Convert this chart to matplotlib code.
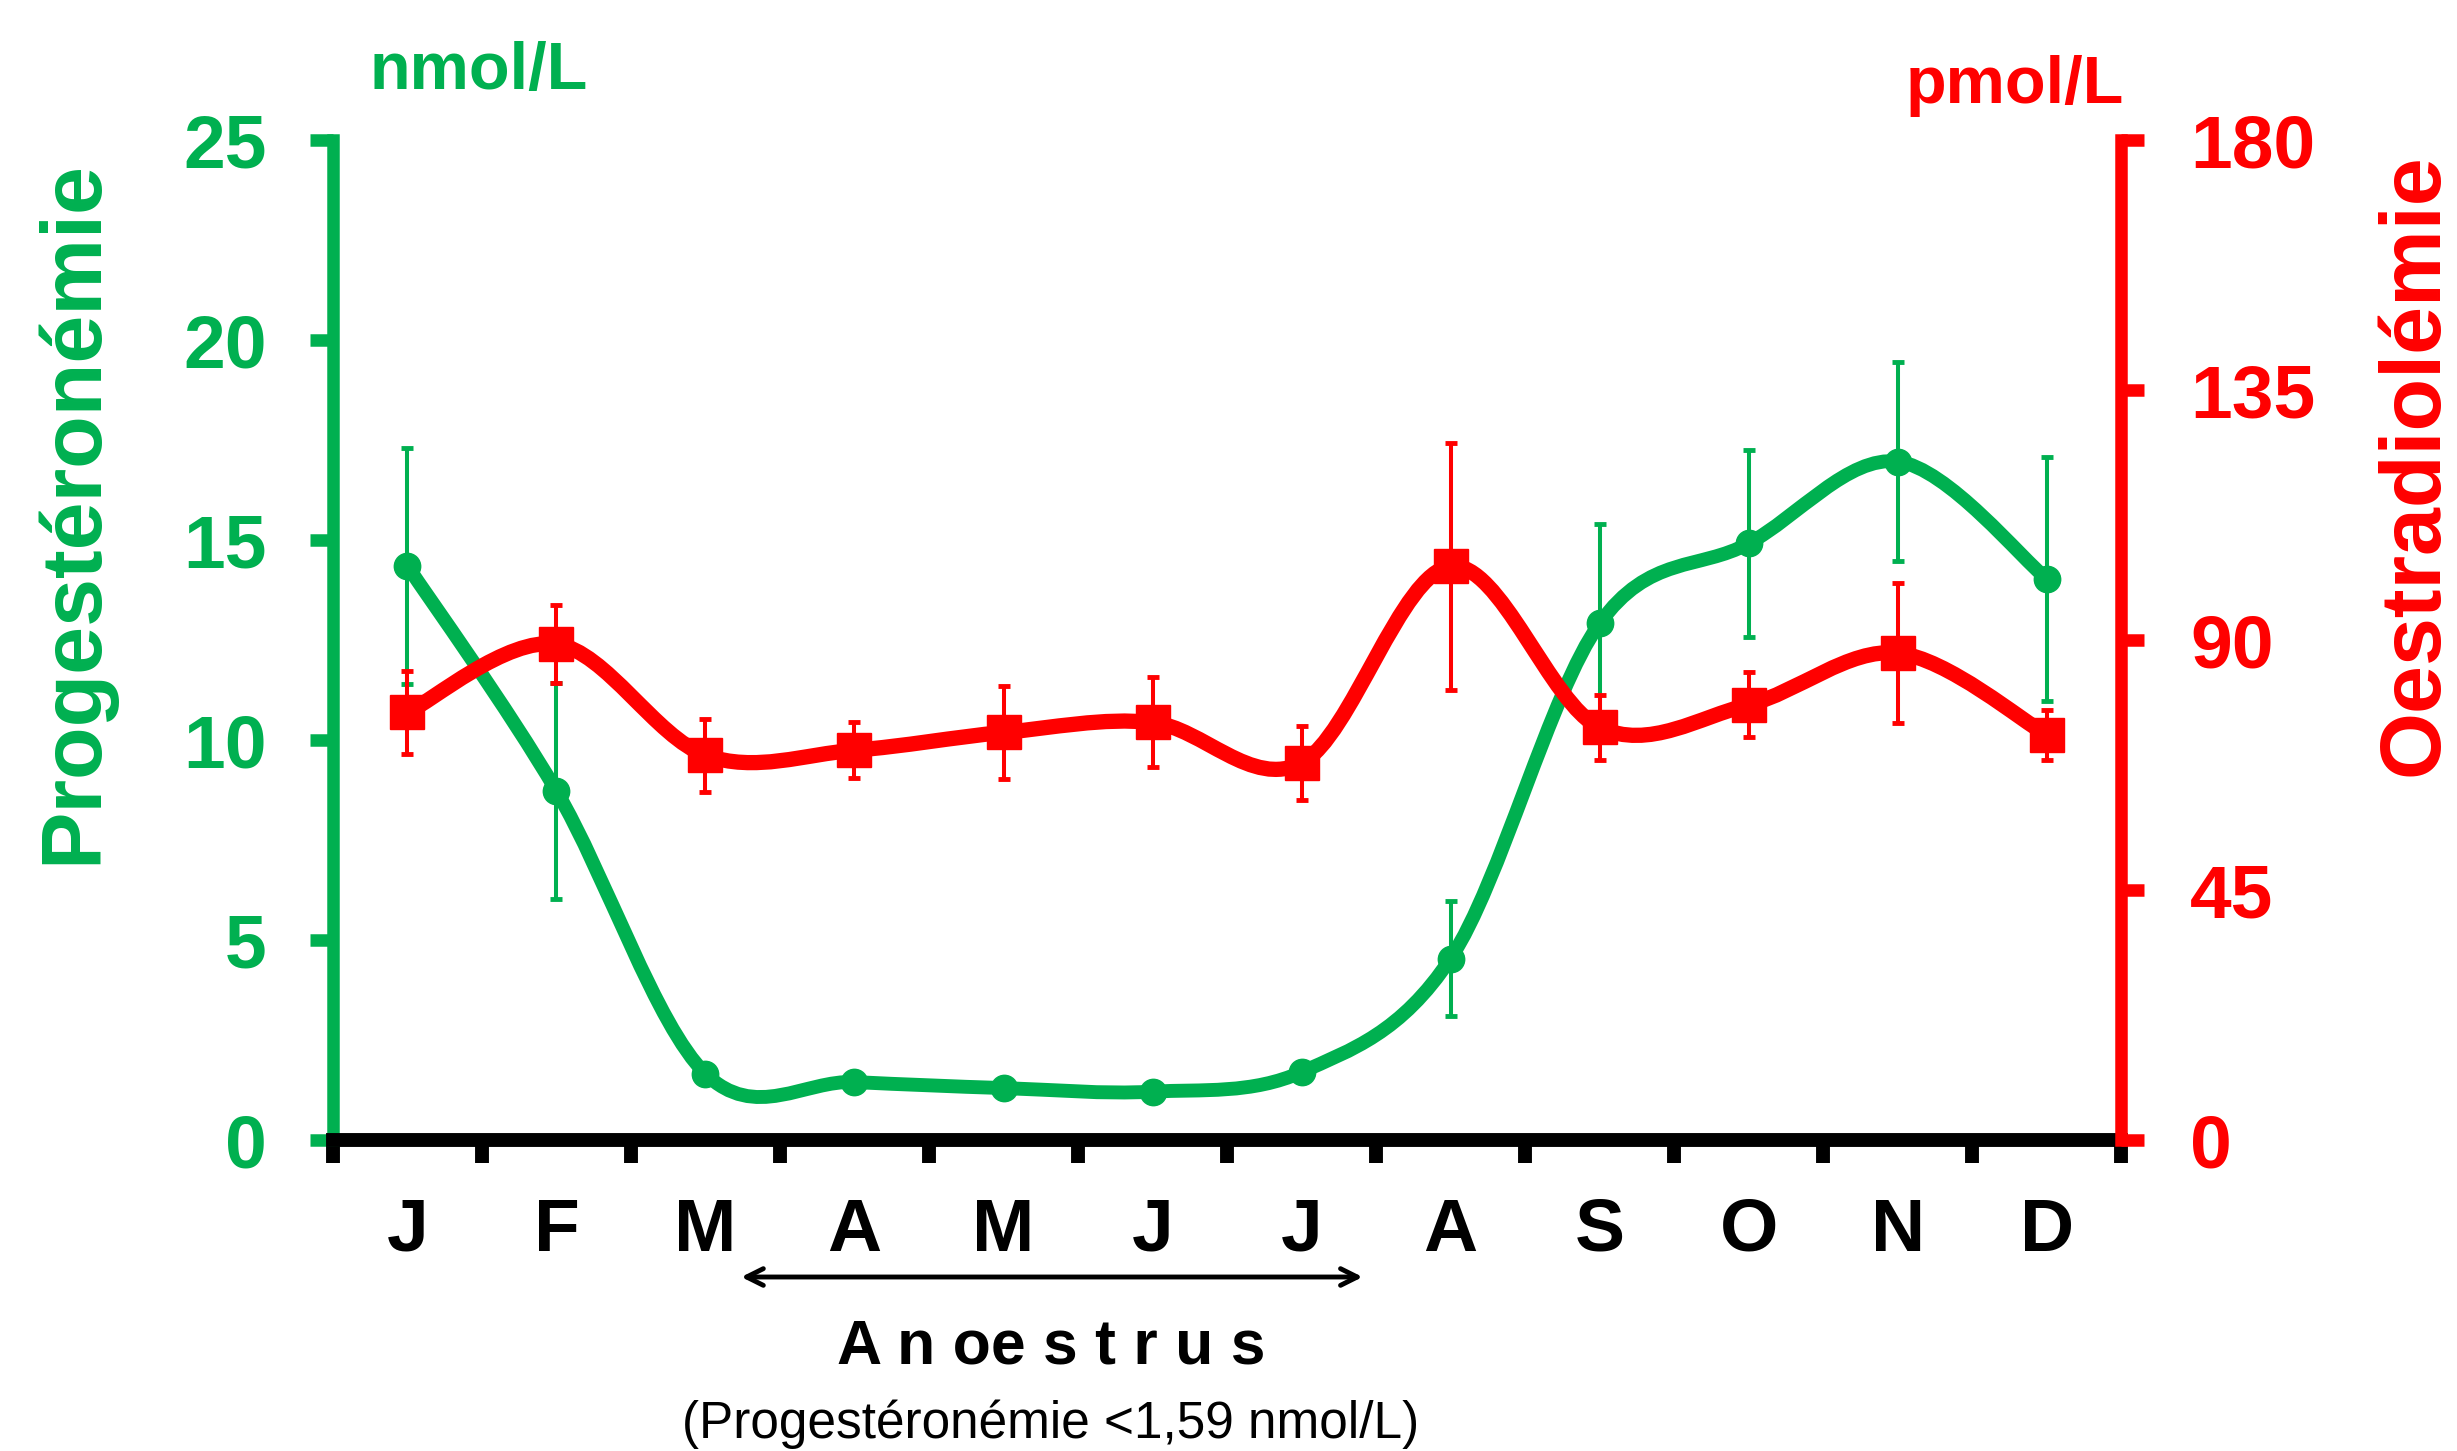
import numpy as np
import matplotlib
matplotlib.use('Agg')
import matplotlib.pyplot as plt
from matplotlib.path import Path
from matplotlib.patches import PathPatch

plt.rcParams['font.family'] = ['Liberation Sans', 'DejaVu Sans']

# data
months = ['J', 'F', 'M', 'A', 'M', 'J', 'J', 'A', 'S', 'O', 'N', 'D']
progesterone = [14.36, 8.73, 1.66, 1.45, 1.30, 1.21, 1.70, 4.54, 12.92, 14.92, 16.97, 14.04]
progesterone_err = [2.95, 2.7, 0.2, 0.2, 0.2, 0.2, 0.2, 1.43, 2.5, 2.35, 2.49, 3.05]
oestradiol = [77.0, 89.3, 69.3, 70.2, 73.4, 75.2, 67.9, 103.3, 74.3, 78.4, 87.7, 73.0]
oestradiol_err = [7.5, 7.0, 6.6, 5.0, 8.3, 8.1, 6.7, 22.3, 5.8, 5.9, 12.6, 4.5]
left_ticks = [0, 5, 10, 15, 20, 25]
right_ticks = [0, 45, 90, 135, 180]
anoestrus_span = (2.74, 6.91)  # from just after M to just before A

GREEN = '#00B050'
RED = '#FF0000'


def smooth_path(xs, ys):
    # excel-like smoothed line: bezier segments through every point
    pts = np.column_stack([xs, ys])
    n = len(pts)
    verts = [pts[0]]
    codes = [Path.MOVETO]
    for i in range(n - 1):
        p0 = pts[max(i - 1, 0)]
        p1 = pts[i]
        p2 = pts[i + 1]
        p3 = pts[min(i + 2, n - 1)]
        c1 = p1 + (p2 - p0) / 6.0
        c2 = p2 - (p3 - p1) / 6.0
        verts += [c1, c2, p2]
        codes += [Path.CURVE4] * 3
    return Path(verts, codes)


x = np.arange(len(months)) + 0.5

fig = plt.figure(figsize=(24.57, 14.51), dpi=100)
ax = fig.add_axes([0.1355, 0.2143, 0.8633 - 0.1355, 0.9032 - 0.2143])
ax2 = ax.twinx()

# progesterone (left axis)
ax.errorbar(x, progesterone, yerr=progesterone_err, fmt='none', ecolor=GREEN,
            elinewidth=2.9, capsize=4.3, capthick=3.5, zorder=2)
ax.add_patch(PathPatch(smooth_path(x, progesterone), fill=False, ec=GREEN,
                       lw=10, capstyle='round', joinstyle='round', zorder=3))
ax.plot(x, progesterone, 'o', color=GREEN, ms=19, zorder=4)

# oestradiol (right axis)
ax2.errorbar(x, oestradiol, yerr=oestradiol_err, fmt='none', ecolor=RED,
             elinewidth=2.9, capsize=4.3, capthick=3.5, zorder=2)
ax2.add_patch(PathPatch(smooth_path(x, oestradiol), fill=False, ec=RED,
                        lw=11, capstyle='round', joinstyle='round', zorder=3))
ax2.plot(x, oestradiol, 's', color=RED, ms=24, zorder=4)

ax.set_xlim(0, 12)
ax.set_ylim(0, 25)
ax2.set_ylim(0, 180)

# spines
for s in ['top', 'right']:
    ax.spines[s].set_visible(False)
for s in ['top', 'left', 'bottom']:
    ax2.spines[s].set_visible(False)
ax.spines['left'].set_color(GREEN)
ax.spines['left'].set_linewidth(9)
ax.spines['bottom'].set_color('black')
ax.spines['bottom'].set_linewidth(10)
ax2.spines['right'].set_color(RED)
ax2.spines['right'].set_linewidth(9)

# ticks
ax.set_yticks(left_ticks)
ax.tick_params(axis='y', colors=GREEN, direction='out', length=16.5, width=9,
               pad=31, labelsize=54)
ax2.set_yticks(right_ticks)
ax2.tick_params(axis='y', colors=RED, direction='out', length=16.5, width=9,
                pad=33, labelsize=54)
for lab in ax.get_yticklabels() + ax2.get_yticklabels():
    lab.set_fontweight('bold')

ax.set_xticks(np.arange(0, 13))
ax.set_xticklabels([])
ax.set_xticks(x, minor=True)
ax.set_xticklabels(months, minor=True, fontsize=54, fontweight='bold')
ax.tick_params(axis='x', which='major', direction='out', length=16.5, width=10, color='black')
ax.tick_params(axis='x', which='minor', length=0, pad=41)

# units and axis titles
fig.text(370 / 2457, 1 - 89 / 1451, 'nmol/L', color=GREEN, fontsize=48,
         fontweight='bold', ha='left', va='baseline')
fig.text(1906 / 2457, 1 - 103 / 1451, 'pmol/L', color=RED, fontsize=48,
         fontweight='bold', ha='left', va='baseline')
fig.text(96 / 2457, 0.647, 'Progestéronémie', color=GREEN, fontsize=62,
         fontweight='bold', rotation=90, rotation_mode='anchor',
         ha='center', va='baseline')
fig.text(2438 / 2457, 0.680, 'Oestradiolémie', color=RED, fontsize=62,
         fontweight='bold', rotation=90, rotation_mode='anchor',
         ha='center', va='baseline')

# anoestrus arrow and notes
y_arrow = 1 - 1277 / 1451
ax.annotate('', xy=(anoestrus_span[0], y_arrow), xytext=(anoestrus_span[1], y_arrow),
            xycoords=(ax.transData, fig.transFigure),
            textcoords=(ax.transData, fig.transFigure),
            arrowprops=dict(arrowstyle='<->, head_length=1.2, head_width=0.6',
                            lw=3.5, color='black', shrinkA=0, shrinkB=0),
            annotation_clip=False)
fig.text(1051 / 2457, 1 - 1363 / 1451, 'A n oe s t r u s', fontsize=45,
         fontweight='bold', ha='center', va='baseline')
fig.text(1051 / 2457, 1 - 1438 / 1451, '(Progestéronémie <1,59 nmol/L)',
         fontsize=37, ha='center', va='baseline')

fig.savefig('out.png', dpi=100)
